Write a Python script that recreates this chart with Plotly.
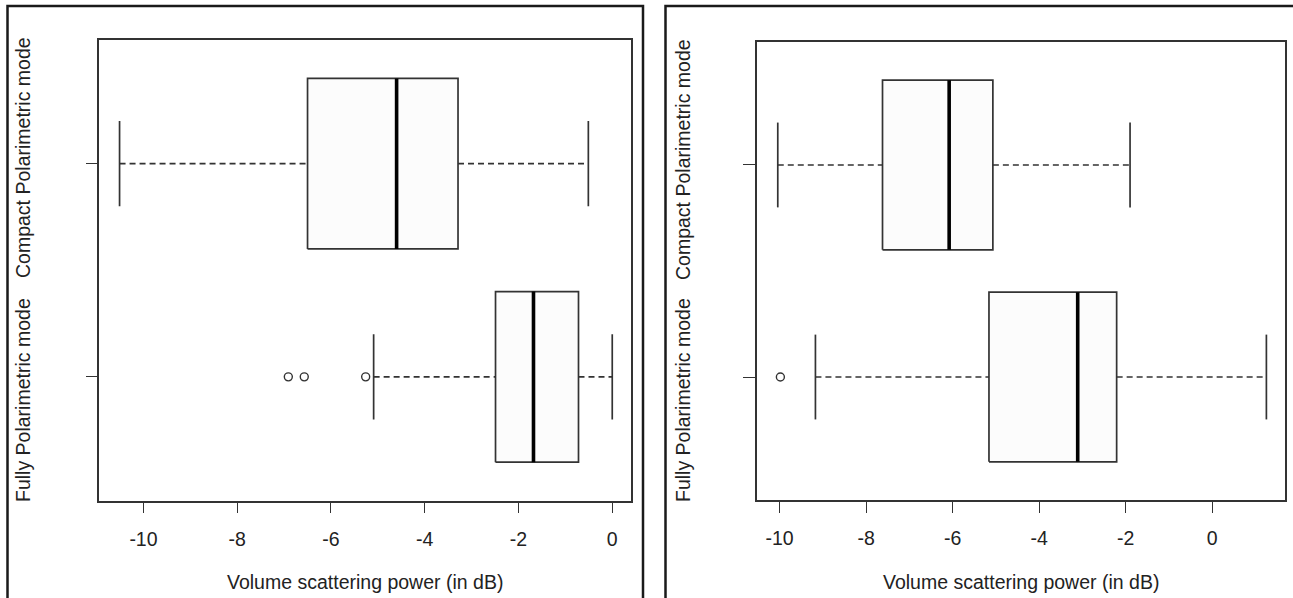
import plotly.graph_objects as go

# ---------------- data ----------------
groups = ["Fully Polarimetric mode", "Compact Polarimetric mode"]  # bottom -> top
group_pos = [1, 2]

# left panel
left_lo = [-5.09, -10.51]
left_q1 = [-2.49, -6.50]
left_med = [-1.68, -4.60]
left_q3 = [-0.72, -3.29]
left_hi = [0.00, -0.51]
left_out = [[-6.91, -6.57, -5.26], []]

# right panel
right_lo = [-9.17, -10.04]
right_q1 = [-5.16, -7.62]
right_med = [-3.11, -6.08]
right_q3 = [-2.21, -5.07]
right_hi = [1.25, -1.90]
right_out = [[-9.98], []]

x_ticks = [-10, -8, -6, -4, -2, 0]
x_title = "Volume scattering power (in dB)"

# ---------------- style ----------------
W, H = 1293, 598
FONT = "Liberation Sans, Arial, sans-serif"
TXT = "#222222"
LINE = "#333333"
HALF = 0.4
CAP = 0.2

fig = go.Figure()


def add_panel(xa, ya, lo, q1, med, q3, hi, outs):
    for i, yp in enumerate(group_pos):
        # box
        fig.add_trace(go.Scatter(
            x=[q1[i], q3[i], q3[i], q1[i], q1[i]],
            y=[yp - HALF, yp - HALF, yp + HALF, yp + HALF, yp - HALF],
            mode="lines", fill="toself", fillcolor="#fcfcfc",
            line=dict(color=LINE, width=1.7), xaxis=xa, yaxis=ya,
            showlegend=False, hoverinfo="skip"))
        # whiskers (dashed)
        for a, b in ((lo[i], q1[i]), (q3[i], hi[i])):
            fig.add_trace(go.Scatter(
                x=[a, b], y=[yp, yp], mode="lines",
                line=dict(color=LINE, width=1.7, dash="6px,4px"),
                xaxis=xa, yaxis=ya, showlegend=False, hoverinfo="skip"))
        # caps
        for c in (lo[i], hi[i]):
            fig.add_trace(go.Scatter(
                x=[c, c], y=[yp - CAP, yp + CAP], mode="lines",
                line=dict(color=LINE, width=1.7),
                xaxis=xa, yaxis=ya, showlegend=False, hoverinfo="skip"))
        # median
        fig.add_trace(go.Scatter(
            x=[med[i], med[i]], y=[yp - HALF, yp + HALF], mode="lines",
            line=dict(color="#000000", width=3.6),
            xaxis=xa, yaxis=ya, showlegend=False, hoverinfo="skip"))
        # outliers
        if outs[i]:
            fig.add_trace(go.Scatter(
                x=outs[i], y=[yp] * len(outs[i]), mode="markers",
                marker=dict(symbol="circle-open", size=8,
                            line=dict(color=LINE, width=1.4), color=LINE),
                xaxis=xa, yaxis=ya, showlegend=False, hoverinfo="skip"))


add_panel("x", "y", left_lo, left_q1, left_med, left_q3, left_hi, left_out)
add_panel("x2", "y2", right_lo, right_q1, right_med, right_q3, right_hi, right_out)

def px_x(p):
    return p / W

def px_y(p):
    return 1 - p / H

xcommon = dict(tickvals=x_ticks, ticktext=[str(t) for t in x_ticks],
               ticks="outside", ticklen=11, tickwidth=1.4, tickcolor=LINE,
               ticklabelstandoff=9,
               showline=True, linecolor=LINE, linewidth=1.7, mirror=True,
               showgrid=False, zeroline=False,
               tickfont=dict(family=FONT, size=19.5, color=TXT),
               automargin=False, fixedrange=True)
ycommon = dict(tickvals=group_pos, ticks="outside", ticklen=12, tickwidth=1.4,
               tickcolor=LINE, showticklabels=False,
               showline=True, linecolor=LINE, linewidth=1.7, mirror=True,
               showgrid=False, zeroline=False, range=[0.42, 2.58],
               automargin=False, fixedrange=True)

fig.update_layout(
    width=W, height=H,
    margin=dict(l=0, r=0, t=0, b=0),
    paper_bgcolor="white", plot_bgcolor="white",
    xaxis=dict(domain=[px_x(99.4), px_x(631)], range=[-10.94, 0.40],
               anchor="y", **xcommon),
    yaxis=dict(domain=[px_y(500.5), px_y(40)], anchor="x", **ycommon),
    xaxis2=dict(domain=[px_x(757), px_x(1285)], range=[-10.52, 1.68],
                anchor="y2", **xcommon),
    yaxis2=dict(domain=[px_y(500), px_y(42)], anchor="x2", **ycommon),
)

# outer panel borders
fig.add_shape(type="rect", xref="paper", yref="paper",
              x0=px_x(7.5), x1=px_x(643), y0=-0.05, y1=px_y(6),
              line=dict(color="#1a1a1a", width=2.5))
fig.add_shape(type="rect", xref="paper", yref="paper",
              x0=px_x(665.5), x1=1.05, y0=-0.05, y1=px_y(6),
              line=dict(color="#1a1a1a", width=2.5))

annos = []
# y category labels (rotated)
for xc, ys in ((23, (400, 158)), (683, (400, 160))):
    for g, yc in zip(groups, ys):
        annos.append(dict(text=g, x=px_x(xc), y=px_y(yc), xref="paper", yref="paper",
                          textangle=-90, showarrow=False, xanchor="center", yanchor="middle",
                          font=dict(family=FONT, size=19.5, color=TXT)))
# x-axis titles
for xd in ("x domain", "x2 domain"):
    annos.append(dict(text=x_title, x=0.5, y=px_y(582), xref=xd, yref="paper",
                      showarrow=False, xanchor="center", yanchor="middle",
                      font=dict(family=FONT, size=19.5, color=TXT)))
fig.update_layout(annotations=annos)

fig.write_html(
    "out.html",
    config={"displayModeBar": False},
    post_script="document.body.style.margin='0';document.body.style.overflow='hidden';",
)
